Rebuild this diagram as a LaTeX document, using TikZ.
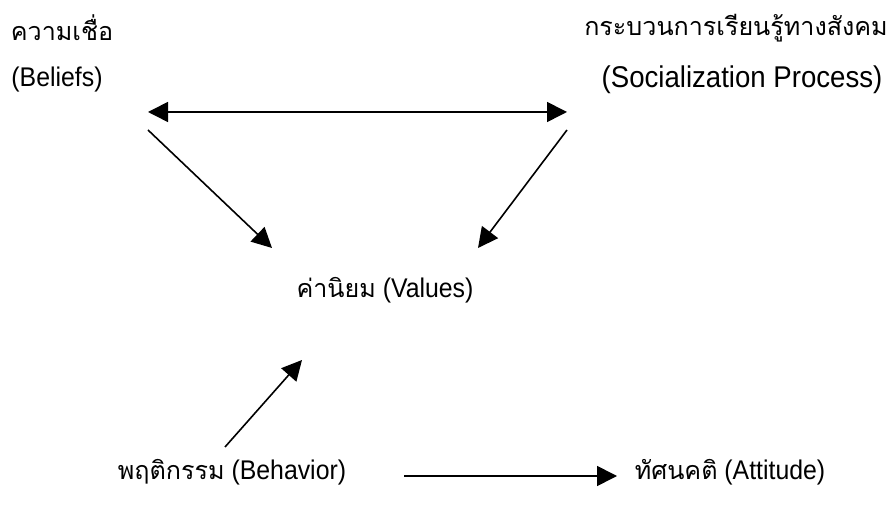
\documentclass[tikz,border=0pt]{standalone}
\usepackage{fontspec}
\setmainfont[FakeStretch=0.92]{Liberation Sans}
\newfontfamily\thaifont[Script=Thai, Scale=0.93]{Loma}
\usetikzlibrary{arrows.meta}

\begin{document}
\begin{tikzpicture}
[x=0.5pt, y=-0.5pt,
 concept/.style={inner sep=0pt, font=\fontsize{13.5}{16}\selectfont},
 link/.style={line width=0.8pt, -{Triangle[length=10pt, width=10pt]}},
 twolink/.style={line width=0.8pt, {Triangle[length=10pt, width=10pt]}-{Triangle[length=10pt, width=10pt]}}]

\useasboundingbox (0, 0) rectangle (893, 517);

\node (beliefsth) at (62, 28) [concept] {\thaifont ความเชื่อ};
\node (beliefs) at (57, 80) [concept] {(Beliefs)};
\node (socialth) at (736, 28) [concept] {\thaifont กระบวนการเรียนรู้ทางสังคม};
\node (social) at (742, 80) [concept, font=\fontsize{15}{18}\selectfont] {(Socialization Process)};
\node (values) at (385, 290) [concept] {{\thaifont ค่านิยม} (Values)};
\node (behavior) at (232, 472) [concept] {{\thaifont พฤติกรรม} (Behavior)};
\node (attitude) at (730, 472) [concept] {{\thaifont ทัศนคติ} (Attitude)};

% end points of the connectors
\coordinate (b1) at (148, 112);
\coordinate (s1) at (567, 112);
\coordinate (b2) at (148, 130);
\coordinate (s2) at (567, 130);
\coordinate (v1) at (272, 248);
\coordinate (v2) at (478, 248);
\coordinate (v3) at (302, 360);
\coordinate (h1) at (225, 447);
\coordinate (h2) at (404, 476);
\coordinate (t1) at (617, 476);

\draw [twolink] (b1) -- (s1);
\draw [link] (b2) -- (v1);
\draw [link] (s2) -- (v2);
\draw [link] (h1) -- (v3);
\draw [link] (h2) -- (t1);
\end{tikzpicture}
\end{document}
